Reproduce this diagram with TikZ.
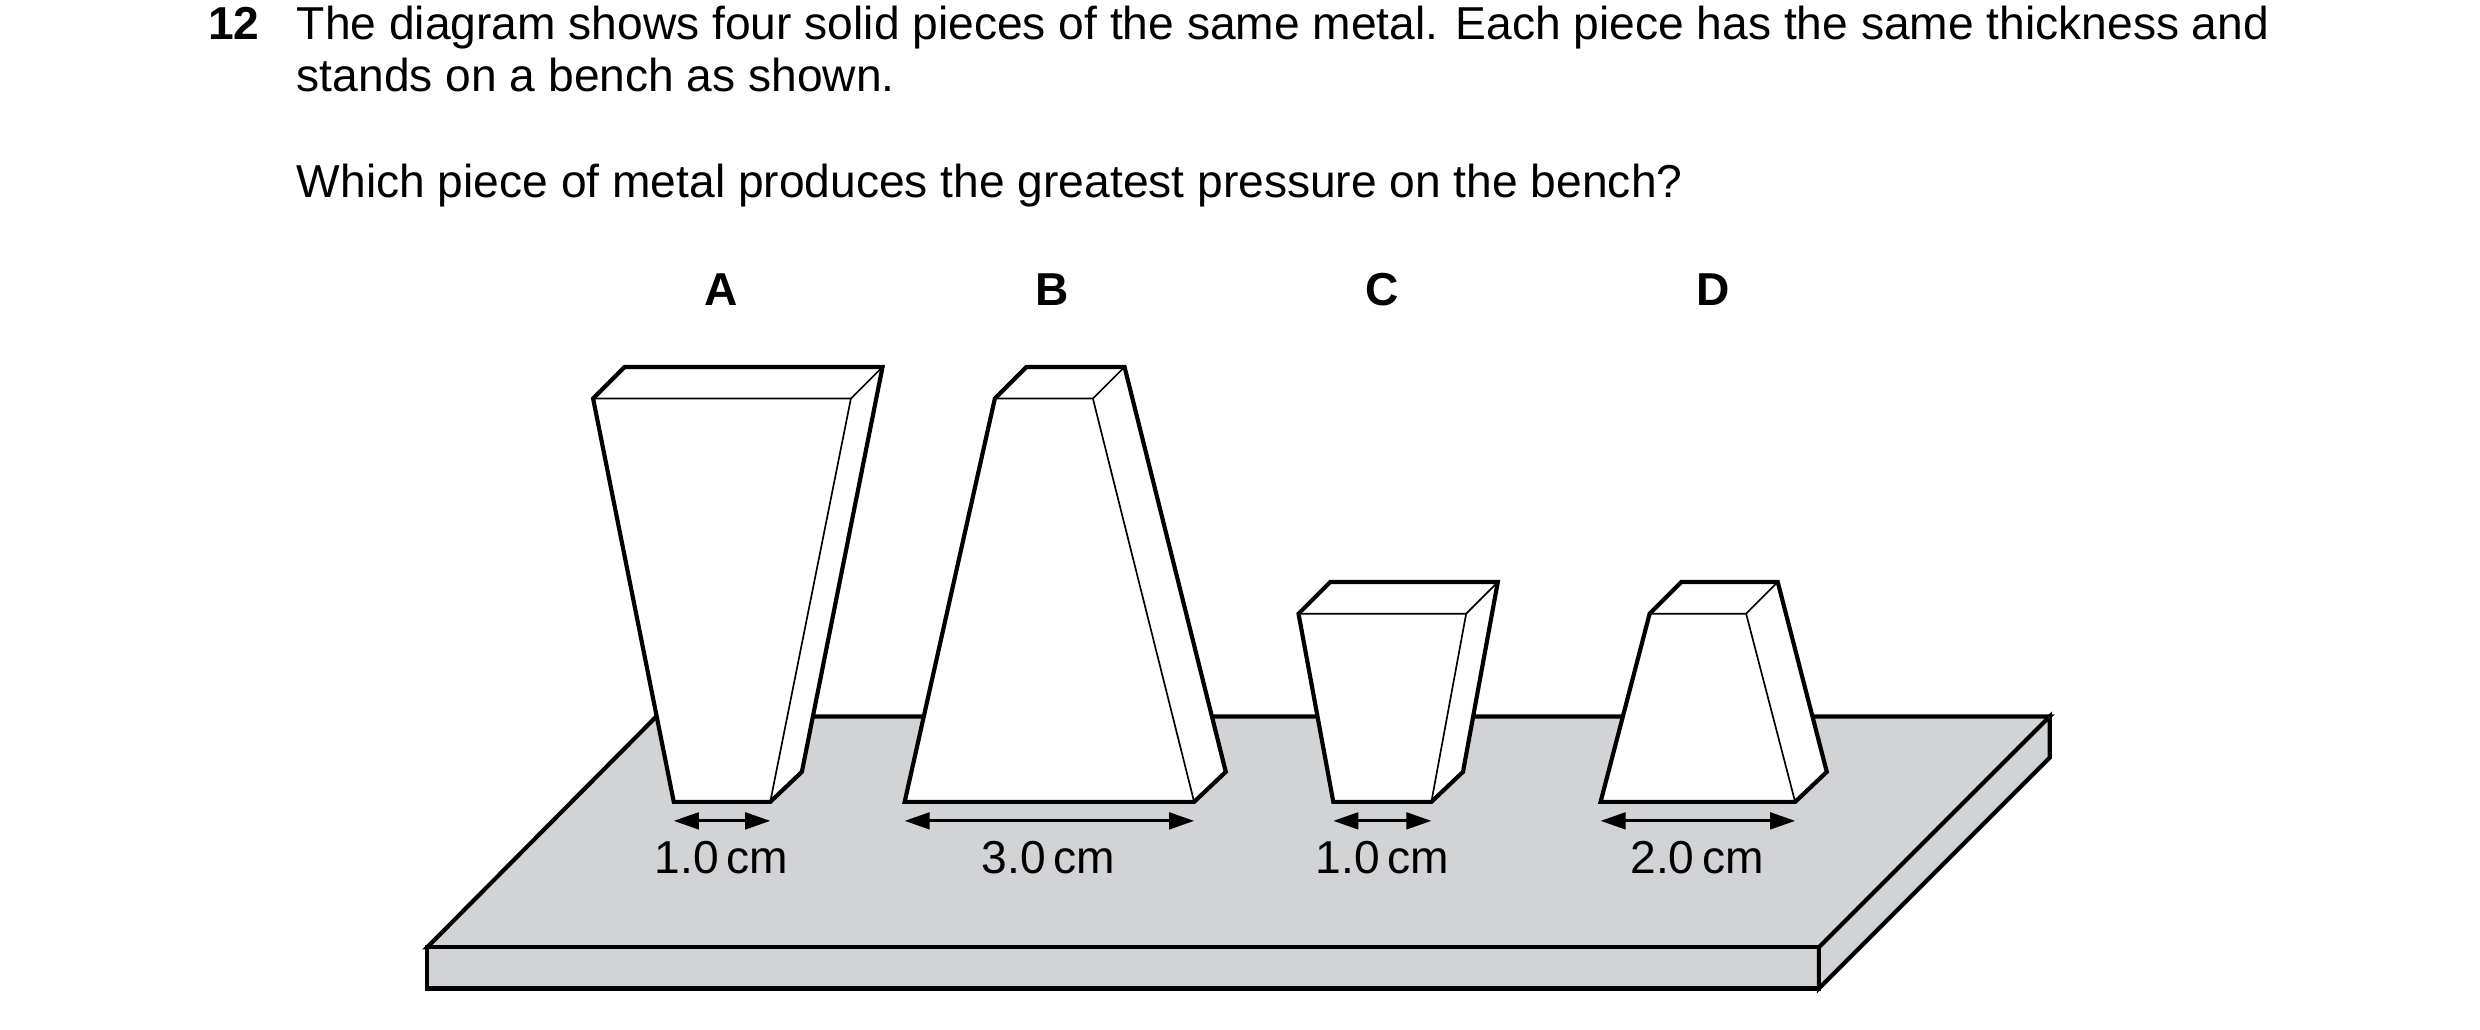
\documentclass[tikz,border=0pt]{standalone}
\usepackage{fontspec}
\setmainfont{Liberation Sans}
\usetikzlibrary{arrows.meta, positioning, calc}
\definecolor{benchgray}{RGB}{210,211,213}
\begin{document}
\begin{tikzpicture}[x=0.01cm, y=-0.01cm,
    outline/.style={line width=0.75pt, line join=miter},
    edge/.style={line width=0.3pt},
    txt/.style={font=\fontsize{8.3}{10}\selectfont, inner sep=0pt},
    letter/.style={font=\fontsize{8.3}{10}\selectfont\bfseries, inner sep=0pt},
    dim/.style={line width=0.5pt, {Triangle[length=4.5pt,width=3pt]}-{Triangle[length=4.5pt,width=3pt]}}]
    \useasboundingbox (0,0) rectangle (1568,651);

    % Question text
    \node[letter, anchor=base west] (num) at (131,25) {12};
    \node[txt, anchor=base west] (l1) at (187,25) {The diagram shows four solid pieces of the same metal. Each piece has the same thickness and};
    \node[txt, anchor=base west] (l2) at (187,58) {stands on a bench as shown.};
    \node[txt, anchor=base west] (l3) at (187,125) {Which piece of metal produces the greatest pressure on the bench?};

    % Bench
    \filldraw[outline, fill=benchgray] (415,453) -- (1296,453) -- (1150,599) -- (270,599) -- cycle;
    \filldraw[outline, fill=benchgray] (270,599) rectangle (1150,625);
    \filldraw[outline, fill=benchgray] (1150,599) -- (1296,453) -- (1296,479) -- (1150,625) -- cycle;
    \draw[edge] (1150,599) -- (1296,453);
    \draw[edge] (270,599) -- (1150,599);

    % Pieces: front face, top face, side face
    \foreach \lt/\rt/\rb/\lb/\d [count=\i] in {
        375/538/487/426/252, 629/691/755/572/252,
        821/927/905/843/388, 1043/1104/1135/1012/388}{
      \pgfmathsetmacro{\ytop}{\d-20}
      \filldraw[outline, fill=white] (\lt,\d) -- (\lt+20,\ytop) -- (\rt+20,\ytop)
        -- (\rb+20,488) -- (\rb,507) -- (\lb,507) -- cycle;
      \draw[edge] (\lt,\d) -- (\rt,\d) -- (\rb,507);
      \draw[edge] (\rt,\d) -- (\rt+20,\ytop);
    }

    % Labels
    \node[letter] (A) at (456,183) {A};
    \node[letter] (B) at (665,183) {B};
    \node[letter] (C) at (874,183) {C};
    \node[letter] (D) at (1083,183) {D};

    % Widths
    \coordinate (a1) at (426,519); \coordinate (a2) at (487,519);
    \coordinate (b1) at (572,519); \coordinate (b2) at (755,519);
    \coordinate (c1) at (843,519); \coordinate (c2) at (905,519);
    \coordinate (d1) at (1012,519); \coordinate (d2) at (1135,519);
    \draw[dim] (a1) -- (a2);
    \draw[dim] (b1) -- (b2);
    \draw[dim] (c1) -- (c2);
    \draw[dim] (d1) -- (d2);
    \node[txt] (wa) at (456,542) {1.0\,cm};
    \node[txt] (wb) at (663,542) {3.0\,cm};
    \node[txt] (wc) at (874,542) {1.0\,cm};
    \node[txt] (wd) at (1073,542) {2.0\,cm};
\end{tikzpicture}
\end{document}
